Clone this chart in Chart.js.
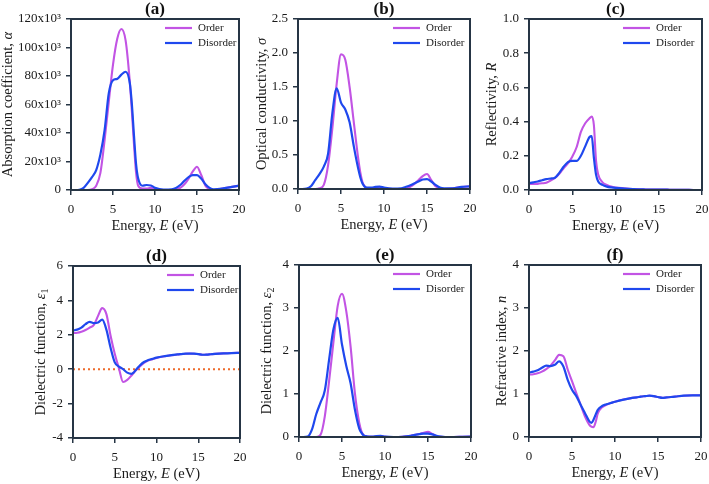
<!DOCTYPE html>
<html>
<head>
<meta charset="utf-8">
<script src="https://cdn.jsdelivr.net/npm/chart.js@4.4.1/dist/chart.umd.min.js"></script>
<style>
body{margin:0;background:#fff;width:709px;height:484px;position:relative;overflow:hidden}
canvas{position:absolute}
</style>
</head>
<body>
<script>
// photon energy grid (eV), shared by every curve
const energy=[0,0.5,1,1.5,2,2.5,3,3.5,4,4.5,5,5.5,6,6.5,7,7.25,7.5,7.75,8,8.5,9,9.5,10,11,12,12.5,13,13.5,14,14.5,15,15.5,16,16.5,17,18,19,20];

// (a) absorption coefficient, x10^3
const absOrder=[0,0,0,0,0,0.5,3,12,35,62,88,106,113,105,76,55,32,12,3,1,1,1.5,0.5,0,0,0.5,1.5,4,8,13,16.3,10.5,3,0.5,0,1,2,3];
const absDisorder=[0,0,0.2,1.5,5,9,14,25,42,68,77,78,81,83,75,60,38,18,8,3,3.5,3.2,1.5,0.2,0.5,1.5,3.5,6.5,9,10.5,10.5,8,4,1.5,0.5,1,2,3];
// (b) optical conductivity
const condOrder=[0,0,0,0,0,0.01,0.06,0.35,0.9,1.55,1.98,1.9,1.5,0.97,0.45,0.24,0.1,0.04,0.015,0.01,0.01,0.02,0.005,0,0,0.005,0.03,0.07,0.13,0.19,0.22,0.13,0.04,0.01,0,0.01,0.03,0.04];
const condDisorder=[0,0,0.005,0.04,0.13,0.22,0.33,0.52,1.12,1.48,1.27,1.17,0.98,0.62,0.3,0.17,0.08,0.035,0.02,0.02,0.03,0.035,0.02,0.005,0.01,0.03,0.05,0.08,0.11,0.14,0.145,0.11,0.06,0.02,0.01,0.01,0.03,0.04];
// (c) reflectivity
const reflOrder=[0.035,0.035,0.036,0.039,0.043,0.055,0.07,0.095,0.127,0.156,0.195,0.25,0.34,0.39,0.42,0.43,0.38,0.17,0.09,0.045,0.03,0.02,0.015,0.01,0.006,0.005,0.004,0.003,0.003,0.003,0.003,0.002,0.002,0.001,0.001,0.001,0,0];
const reflDisorder=[0.04,0.045,0.05,0.057,0.064,0.067,0.072,0.1,0.136,0.163,0.17,0.17,0.2,0.255,0.31,0.315,0.19,0.09,0.05,0.03,0.02,0.015,0.012,0.008,0.005,0.004,0.004,0.003,0.003,0.003,0.003,0.002,0.002,0.001,0.001,0.001,0,0];
// (d) real part of dielectric function
const eps1Order=[2.1,2.12,2.18,2.28,2.42,2.58,3.1,3.55,3.2,1.95,0.9,0.05,-0.74,-0.62,-0.37,-0.22,-0.08,0.04,0.16,0.36,0.5,0.58,0.65,0.75,0.82,0.85,0.88,0.9,0.91,0.9,0.88,0.84,0.85,0.87,0.89,0.92,0.94,0.95];
const eps1Disorder=[2.25,2.3,2.42,2.62,2.75,2.68,2.72,2.88,2.3,1.25,0.4,0.15,0.0,-0.2,-0.27,-0.2,-0.06,0.08,0.22,0.42,0.53,0.6,0.67,0.76,0.83,0.86,0.88,0.9,0.91,0.9,0.88,0.84,0.85,0.87,0.89,0.92,0.94,0.95];
const zeroE=[0,20], zeroVal=[0,0];
// (e) imaginary part of dielectric function
const eps2Order=[0,0,0,0,0,0.05,0.48,1.3,2.2,3.05,3.33,2.92,2.1,1.02,0.33,0.14,0.05,0.02,0.01,0.005,0.01,0.02,0.005,0,0.005,0.015,0.03,0.05,0.07,0.1,0.12,0.07,0.02,0.005,0,0,0.005,0.01];
const eps2Disorder=[0,0,0.01,0.17,0.53,0.8,1.08,1.8,2.5,2.77,2.15,1.65,1.25,0.64,0.2,0.1,0.04,0.02,0.01,0.01,0.02,0.025,0.01,0,0.005,0.015,0.03,0.05,0.065,0.08,0.08,0.06,0.03,0.01,0,0,0.005,0.01];
// (f) refractive index
const nOrder=[1.45,1.46,1.48,1.52,1.58,1.66,1.78,1.91,1.88,1.57,1.3,1.02,0.75,0.48,0.29,0.24,0.23,0.35,0.55,0.69,0.75,0.79,0.82,0.87,0.91,0.92,0.94,0.95,0.96,0.95,0.93,0.91,0.92,0.93,0.94,0.96,0.97,0.97];
const nDisorder=[1.5,1.52,1.55,1.61,1.66,1.65,1.68,1.76,1.64,1.33,1.1,0.95,0.75,0.56,0.37,0.33,0.4,0.52,0.63,0.72,0.76,0.79,0.82,0.87,0.91,0.92,0.94,0.95,0.96,0.95,0.93,0.91,0.92,0.93,0.94,0.96,0.97,0.97];

const AXIS='#263545', ORDER='#c254e4', DISORDER='#1f48ee', ZERO='#ee6a2a', INK='#1a1a1a';
const SERIF='"Liberation Serif","Times New Roman",serif';
Chart.defaults.font.family=SERIF;
Chart.defaults.color=INK;

// axis titles as [text, italic, subscript] pieces
const xTitle=[['Energy, '],['E',1],[' (eV)']];

function pts(xs,ys){return xs.map((x,i)=>({x:x,y:ys[i]}));}

function rich(g,segs,cx,cy,rot){
  g.save();g.translate(cx,cy);g.rotate(rot);
  g.textBaseline='middle';g.textAlign='left';g.fillStyle=INK;
  const fnt=s=>(s[1]?'italic ':'')+(s[2]?'10px ':'14.5px ')+SERIF;
  let w=0;segs.forEach(s=>{g.font=fnt(s);w+=g.measureText(s[0]).width;});
  let x=-w/2;
  segs.forEach(s=>{g.font=fnt(s);g.fillText(s[0],x,s[2]?4:0);x+=g.measureText(s[0]).width;});
  g.restore();
}

// title, axis titles, inside legend and box frame
const deco={id:'deco',afterDatasetsDraw(c,args,o){
  const a=c.chartArea,g=c.ctx;
  g.save();
  g.strokeStyle=AXIS;g.lineWidth=2;
  g.strokeRect(a.left,a.top,a.right-a.left,a.bottom-a.top);
  g.fillStyle='#111';g.textAlign='center';g.textBaseline='middle';
  g.font='bold 17px '+SERIF;
  g.fillText(o.label,(a.left+a.right)/2,a.top-9);
  rich(g,xTitle,(a.left+a.right)/2,a.bottom+36,0);
  rich(g,o.yTitle,a.left-o.yOff,(a.top+a.bottom)/2,-Math.PI/2);
  g.font='11px '+SERIF;g.textAlign='left';g.fillStyle=INK;
  let row=0;
  c.data.datasets.forEach(d=>{
    if(!d.label) return;
    const y=a.top+9+row*15, x0=a.right-o.legX;
    g.strokeStyle=d.borderColor;g.lineWidth=2.2;
    g.beginPath();g.moveTo(x0,y);g.lineTo(x0+27,y);g.stroke();
    g.fillText(d.label,x0+33,y+0.5);
    row++;
  });
  g.restore();
}};

function panel(box,label,yTitle,yOff,legX,ymin,ymax,step,fmt,order,disorder,extra){
  const [L,R,T,B]=box;
  const cv=document.createElement('canvas');
  cv.width=R-L+90;cv.height=B-T+75;
  cv.style.left=(L-80)+'px';cv.style.top=(T-25)+'px';
  document.body.appendChild(cv);
  const sets=[
    {label:'Order',data:pts(energy,order),borderColor:ORDER,borderWidth:2.1,order:1},
    {label:'Disorder',data:pts(energy,disorder),borderColor:DISORDER,borderWidth:2.2,order:0}
  ];
  if(extra) sets.push(extra);
  new Chart(cv,{
    type:'line',
    data:{datasets:sets},
    options:{
      responsive:false,animation:false,devicePixelRatio:1,
      layout:{padding:{left:0,top:25,right:10,bottom:0}},
      elements:{point:{radius:0},line:{cubicInterpolationMode:'monotone',fill:false}},
      plugins:{legend:{display:false},tooltip:{enabled:false},deco:{label:label,legX:legX,yTitle:yTitle,yOff:yOff}},
      scales:{
        x:{type:'linear',min:0,max:20,
          afterFit(s){s.height=50;s.paddingLeft=0;s.paddingRight=0;},
          ticks:{stepSize:5,padding:6.5,font:{size:13},color:INK},
          grid:{display:true,drawOnChartArea:false,tickLength:5,color:AXIS,lineWidth:1.5},
          border:{color:AXIS,width:2}},
        y:{min:ymin,max:ymax,
          afterFit(s){s.width=80;s.paddingTop=0;s.paddingBottom=0;},
          ticks:{stepSize:step,padding:5,font:{size:13},color:INK,callback:fmt},
          grid:{display:true,drawOnChartArea:false,tickLength:5,color:AXIS,lineWidth:1.5},
          border:{color:AXIS,width:2}}
      }
    },
    plugins:[deco]
  });
}

const f1=v=>v.toFixed(1), fi=v=>String(v);
panel([71,239,19,190],'(a)',[['Absorption coefficient, '],['\u03b1',1]],63,74,0,120,20,v=>v===0?'0':v+'x10\u00b3',absOrder,absDisorder);
panel([298,470,19,189],'(b)',[['Optical conductivity, '],['\u03c3',1]],36,77,0,2.5,0.5,f1,condOrder,condDisorder);
panel([529,702,19,190],'(c)',[['Reflectivity, '],['R',1]],36.5,79,0,1,0.2,f1,reflOrder,reflDisorder);
panel([73,240,266,438],'(d)',[['Dielectric function, '],['\u03b5',1],['1',0,1]],32,73,-4,6,2,fi,eps1Order,eps1Disorder,
  {data:pts(zeroE,zeroVal),borderColor:ZERO,borderWidth:2,borderDash:[2,3],order:2});
panel([299,471,265,437],'(e)',[['Dielectric function, '],['\u03b5',1],['2',0,1]],31.5,78,0,4,1,fi,eps2Order,eps2Disorder);
panel([529,701,265,437],'(f)',[['Refractive index, '],['n',1]],27,78,0,4,1,fi,nOrder,nDisorder);
</script>
</body>
</html>
